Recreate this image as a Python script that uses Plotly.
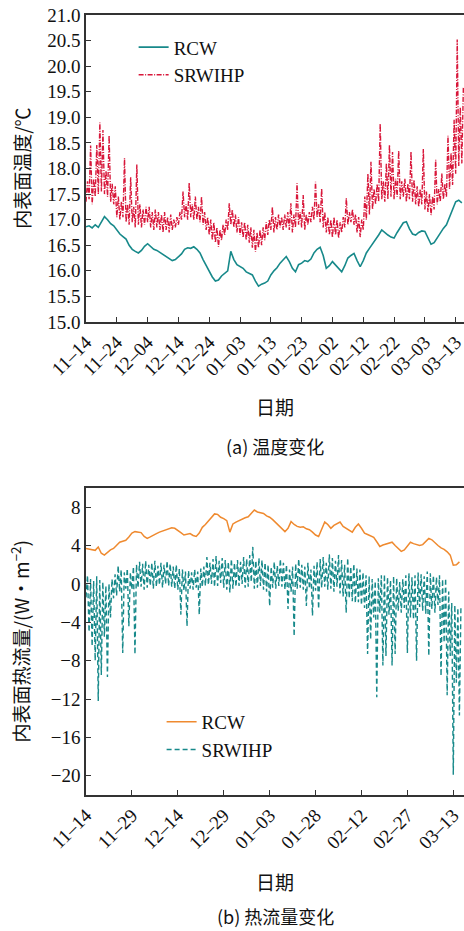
import numpy as np
import pandas as pd
import plotly.graph_objects as go

# ---------------- data ----------------
start_date = "2019-11-14"

# (a) inner surface temperature, degC, daily values from 11-14
rcw_temp = [16.86, 16.88, 16.84, 16.90, 16.85, 16.95, 17.06, 17.00, 16.92, 16.88,
            16.80, 16.72, 16.67, 16.62, 16.50, 16.42, 16.38, 16.35, 16.40, 16.48,
            16.53, 16.47, 16.42, 16.40, 16.36, 16.31, 16.27, 16.23, 16.20, 16.22,
            16.27, 16.33, 16.42, 16.45, 16.44, 16.47, 16.42, 16.35, 16.22, 16.10,
            16.00, 15.88, 15.80, 15.82, 15.90, 15.96, 16.00, 16.38, 16.22, 16.12,
            16.08, 16.05, 15.98, 15.95, 15.92, 15.80, 15.70, 15.74, 15.76, 15.80,
            15.92, 16.00, 16.06, 16.15, 16.22, 16.28, 16.18, 16.05, 15.98, 16.12,
            16.15, 16.20, 16.18, 16.23, 16.35, 16.42, 16.46, 16.30, 16.05, 16.10,
            16.18, 16.12, 16.05, 15.98, 16.10, 16.25, 16.30, 16.34, 16.20, 16.08,
            16.20, 16.35, 16.44, 16.52, 16.60, 16.70, 16.80, 16.74, 16.70, 16.66,
            16.64, 16.75, 16.85, 16.94, 16.96, 16.82, 16.72, 16.70, 16.75, 16.78,
            16.77, 16.65, 16.52, 16.55, 16.65, 16.75, 16.83, 16.90, 17.05, 17.20,
            17.35, 17.38, 17.33]

# SRWIHP temperature: daily low and daily high
srw_temp_low = [17.35, 17.40, 17.30, 17.45, 17.50, 17.55, 17.50, 17.45, 17.35, 17.30,
                17.05, 17.00, 17.05, 16.95, 16.90, 16.95, 16.85, 16.90, 16.85, 16.90,
                16.95, 16.85, 16.80, 16.85, 16.80, 16.75, 16.80, 16.75, 16.80, 16.85,
                16.90, 17.00, 17.05, 17.00, 17.05, 17.00, 17.00, 16.95, 16.90, 16.80,
                16.70, 16.60, 16.55, 16.47, 16.60, 16.70, 16.80, 16.90, 16.85, 16.75,
                16.70, 16.65, 16.60, 16.55, 16.45, 16.37, 16.45, 16.50, 16.60, 16.70,
                16.80, 16.75, 16.80, 16.85, 16.80, 16.85, 16.80, 16.75, 16.85, 16.90,
                16.85, 16.80, 16.90, 16.95, 17.00, 17.05, 16.95, 16.85, 16.75, 16.70,
                16.65, 16.70, 16.64, 16.75, 16.85, 16.90, 16.95, 16.90, 16.75, 16.66,
                16.80, 17.00, 17.10, 17.20, 17.30, 17.35, 17.40, 17.35, 17.40, 17.45,
                17.40, 17.45, 17.40, 17.45, 17.35, 17.40, 17.35, 17.30, 17.25, 17.30,
                17.20, 17.15, 17.09, 17.20, 17.30, 17.35, 17.40, 17.45, 17.60, 17.68,
                17.90, 18.05, 18.10]
srw_temp_high = [17.75, 18.45, 17.80, 18.46, 18.90, 18.75, 17.95, 18.65, 17.70, 17.65,
                 17.45, 17.35, 18.20, 17.30, 17.83, 17.25, 18.08, 17.30, 17.20, 17.25,
                 17.25, 17.15, 17.20, 17.15, 17.10, 17.15, 17.05, 17.10, 17.00, 17.05,
                 17.15, 17.55, 17.30, 17.72, 17.30, 17.45, 17.25, 17.45, 17.15, 17.05,
                 17.00, 16.95, 16.85, 16.80, 16.90, 17.00, 17.32, 17.20, 17.10, 17.05,
                 16.95, 16.95, 16.90, 16.85, 16.80, 16.75, 16.80, 16.85, 16.95, 17.00,
                 17.25, 17.05, 17.10, 17.05, 17.10, 17.15, 17.32, 17.10, 17.71, 17.15,
                 17.48, 17.10, 17.15, 17.25, 17.74, 17.30, 17.61, 17.15, 17.05, 17.00,
                 17.05, 17.00, 16.95, 17.05, 17.42, 17.15, 17.20, 17.10, 17.05, 17.00,
                 17.45, 17.90, 18.13, 17.60, 17.70, 18.88, 17.75, 18.10, 18.46, 18.32,
                 17.80, 18.35, 17.75, 17.80, 17.70, 18.33, 17.78, 17.65, 17.60, 18.38,
                 17.55, 17.50, 17.45, 18.17, 17.60, 17.90, 17.70, 18.64, 18.30, 18.95,
                 20.52, 19.20, 19.60]

# (b) inner surface heat flux, W/m2
rcw_flux = [3.70, 3.65, 3.55, 3.50, 3.85, 3.20, 3.00, 3.30, 3.55, 3.70,
            4.00, 4.35, 4.45, 4.55, 4.90, 5.30, 5.45, 5.40, 5.35, 4.95,
            4.75, 4.90, 5.10, 5.25, 5.40, 5.50, 5.65, 5.75, 5.85, 5.80,
            5.60, 5.35, 5.10, 5.20, 5.25, 5.05, 4.95, 5.30, 5.90, 6.20,
            6.60, 7.00, 7.30, 7.25, 6.95, 6.80, 6.60, 5.40, 6.25, 6.45,
            6.60, 6.80, 6.90, 7.00, 7.30, 7.70, 7.50, 7.40, 7.35, 7.10,
            6.95, 6.70, 6.40, 6.10, 5.80, 5.45, 5.80, 6.50, 6.20, 6.00,
            5.90, 5.95, 5.75, 5.65, 5.40, 5.10, 4.95, 5.70, 6.45, 6.20,
            5.80, 6.10, 6.30, 6.45, 6.00, 5.80, 5.55, 5.40, 5.90, 6.25,
            5.80, 5.30, 5.15, 5.00, 4.85, 4.40, 3.90, 4.05, 4.15, 4.20,
            4.35, 4.00, 3.70, 3.40, 3.55, 4.00, 4.35, 4.20, 4.10, 4.00,
            4.10, 4.40, 4.75, 4.60, 4.25, 4.00, 3.75, 3.60, 3.35, 3.00,
            1.96, 2.00, 2.30]

srw_flux_low = [-1.4, -5.0, -6.5, -8.0, -12.2, -9.5, -5.5, -9.7, -3.5, -1.5,
                -1.2, -0.8, -7.2, -0.5, -4.4, -0.6, -7.35, -0.4, -0.3, -0.6,
                -0.4, -0.2, -0.5, -0.3, -0.1, -0.4, 0.0, -0.2, -0.3, -0.5,
                -0.6, -3.2, -0.7, -4.4, -0.5, -0.6, -0.4, -3.2, -0.3, -0.2,
                -0.1, 0.0, -0.3, -0.2, 0.1, -0.4, -0.6, -0.9, -0.5, -0.3,
                -0.2, 0.0, -0.4, -0.3, 0.2, -0.5, -0.4, -0.2, -0.6, -0.8,
                -2.3, -0.4, -0.5, -0.2, -0.3, -0.6, -2.6, -0.8, -5.45, -0.5,
                -0.4, -0.6, -2.3, -0.5, -3.3, -0.7, -2.6, -0.4, -0.3, -0.6,
                -0.5, -0.8, -0.3, -1.0, -1.3, -3.0, -1.5, -1.8, -2.0, -1.9,
                -2.2, -2.5, -7.3, -5.8, -3.5, -11.8, -3.0, -8.5, -7.5, -3.2,
                -8.5, -7.3, -2.8, -3.0, -2.5, -7.2, -3.5, -3.7, -8.0, -2.4,
                -2.8, -3.1, -7.5, -2.6, -3.0, -2.2, -9.6, -6.1, -11.6, -7.5,
                -19.9, -10.3, -13.7]
srw_flux_high = [0.9, 0.5, 0.3, 0.8, 0.4, 0.2, -0.2, 0.0, 0.5, 1.0,
                 1.9, 1.5, 1.2, 1.6, 1.2, 1.8, 2.0, 2.3, 2.1, 2.4,
                 2.0, 2.2, 2.4, 1.9, 2.2, 2.0, 2.4, 2.1, 1.8, 2.0,
                 1.6, 1.5, 1.3, 1.4, 1.2, 1.5, 1.3, 1.6, 1.8, 2.8,
                 2.2, 2.6, 2.9, 2.4, 2.7, 2.5, 2.3, 2.6, 2.2, 2.5,
                 2.3, 2.8, 2.6, 3.0, 3.86, 2.4, 2.7, 2.5, 2.2, 2.0,
                 1.8, 2.3, 1.9, 2.6, 2.2, 2.0, 1.5, 1.8, 2.1, 2.6,
                 2.0, 1.8, 2.2, 1.5, 1.9, 2.3, 2.6, 2.8, 2.2, 3.1,
                 2.7, 2.4, 3.0, 2.5, 2.0, 2.7, 1.8, 2.1, 1.6, 1.5,
                 1.2, 0.9, 0.8, 0.5, 0.3, 0.6, 0.9, 1.0, 0.7, 0.4,
                 0.8, 0.6, 0.2, 0.5, 0.9, 1.1, 0.7, 0.9, 1.2, 1.0,
                 0.8, 1.3, 1.1, 0.9, 0.7, 0.9, 0.5, 0.6, -0.8, -2.0,
                 -2.2, -2.5, -2.3]

temp_ticktext = ["11–14", "11–24", "12–04", "12–14", "12–24", "01–03", "01–13",
                 "01–23", "02–02", "02–12", "02–22", "03–03", "03–13"]
flux_ticktext = ["11–14", "11–29", "12–14", "12–29", "01–03", "01–28",
                 "02–12", "02–27", "03–13"]
temp_tick_step_days = 10
flux_tick_step_days = 15

# ---------------- build time axes ----------------
t0 = pd.Timestamp(start_date)
n = len(rcw_temp)
daily_t = t0 + pd.to_timedelta(np.arange(n), unit="D")
pair_t = []
for d in daily_t:
    pair_t.append(d)
    pair_t.append(d + pd.Timedelta(hours=12))


def interleave(lo, hi):
    out = []
    for a, b in zip(lo, hi):
        out.append(a)
        out.append(b)
    return out


temp_tickvals = [t0 + pd.Timedelta(days=temp_tick_step_days * i) for i in range(len(temp_ticktext))]
flux_tickvals = [t0 + pd.Timedelta(days=flux_tick_step_days * i) for i in range(len(flux_ticktext))]

SERIF = "Liberation Serif, Noto Sans CJK SC, serif"
CJK = "Noto Sans CJK SC, Liberation Serif, sans-serif"
TEAL = "#17898a"
RED = "#d8173a"
ORANGE = "#ef8a2f"
AX = "#333333"

fig = go.Figure()
fig.add_trace(go.Scatter(x=daily_t, y=rcw_temp, mode="lines", name="RCW",
                         line=dict(color=TEAL, width=1.6), xaxis="x", yaxis="y",
                         legend="legend"))
fig.add_trace(go.Scatter(x=pair_t, y=interleave(srw_temp_low, srw_temp_high), mode="lines",
                         name="SRWIHP", line=dict(color=RED, width=1.4, dash="5px,1.5px,1px,1.5px"),
                         xaxis="x", yaxis="y", legend="legend"))
fig.add_trace(go.Scatter(x=daily_t, y=rcw_flux, mode="lines", name="RCW",
                         line=dict(color=ORANGE, width=1.5), xaxis="x2", yaxis="y2",
                         legend="legend2"))
fig.add_trace(go.Scatter(x=pair_t, y=interleave(srw_flux_low, srw_flux_high), mode="lines",
                         name="SRWIHP", line=dict(color=TEAL, width=1.4, dash="5px,3px"),
                         xaxis="x2", yaxis="y2", legend="legend2"))

xcommon = dict(showline=True, linecolor=AX, linewidth=1.5, mirror=True,
               ticks="inside", ticklen=5, tickcolor=AX, tickangle=-45,
               ticklabeloverflow="allow",
               tickfont=dict(family=SERIF, size=19, color="#111"),
               showgrid=False, zeroline=False)
ycommon = dict(showline=True, linecolor=AX, linewidth=1.5, ticks="inside", ticklen=5,
               tickcolor=AX, tickfont=dict(family=SERIF, size=19, color="#111"),
               showgrid=False, zeroline=False)

fig.update_layout(
    width=464, height=931,
    margin=dict(l=86, r=0, t=15, b=136),
    paper_bgcolor="white", plot_bgcolor="white",
    xaxis=dict(xcommon, domain=[0, 1], anchor="y",
               range=[t0, t0 + pd.Timedelta(days=122.7)],
               tickmode="array", tickvals=temp_tickvals, ticktext=temp_ticktext),
    yaxis=dict(ycommon, domain=[0.6064, 1], anchor="x", range=[15, 21], dtick=0.5,
               tick0=15, tickformat=".1f"),
    xaxis2=dict(xcommon, domain=[0, 1], anchor="y2",
                range=[t0, t0 + pd.Timedelta(days=123.5)],
                tickmode="array", tickvals=flux_tickvals, ticktext=flux_ticktext),
    yaxis2=dict(ycommon, domain=[0, 0.3936], anchor="x2", range=[-22, 10],
                tickmode="array", tickvals=[-20, -16, -12, -8, -4, 0, 4, 8]),
    legend=dict(x=0.126, y=0.983, xanchor="left", yanchor="top", bgcolor="rgba(0,0,0,0)",
                font=dict(family=SERIF, size=19, color="#111"), tracegroupgap=0),
    legend2=dict(x=0.2, y=0.118, xanchor="left", yanchor="top", bgcolor="rgba(0,0,0,0)",
                 font=dict(family=SERIF, size=19, color="#111"), tracegroupgap=0),
    annotations=[
        dict(text="内表面温度/℃", xref="paper", yref="paper", x=-0.169, y=0.8029,
             textangle=-90, showarrow=False, xanchor="center", yanchor="middle",
             font=dict(family=CJK, size=19, color="#111")),
        dict(text="日期", xref="paper", yref="paper", x=0.5, y=0.4987,
             showarrow=False, xanchor="center", yanchor="middle",
             font=dict(family=CJK, size=19, color="#111")),
        dict(text="(a) 温度变化", xref="paper", yref="paper", x=0.5, y=0.4474,
             showarrow=False, xanchor="center", yanchor="middle",
             font=dict(family=CJK, size=18, color="#111")),
        dict(text="内表面热流量/(W·m<sup>−2</sup>)", xref="paper", yref="paper", x=-0.172,
             y=0.1968, textangle=-90, showarrow=False, xanchor="center", yanchor="middle",
             font=dict(family=CJK, size=19, color="#111")),
        dict(text="日期", xref="paper", yref="paper", x=0.5, y=-0.1115,
             showarrow=False, xanchor="center", yanchor="middle",
             font=dict(family=CJK, size=19, color="#111")),
        dict(text="(b) 热流量变化", xref="paper", yref="paper", x=0.5, y=-0.1551,
             showarrow=False, xanchor="center", yanchor="middle",
             font=dict(family=CJK, size=18, color="#111")),
    ],
)

fig.write_html("out.html")
